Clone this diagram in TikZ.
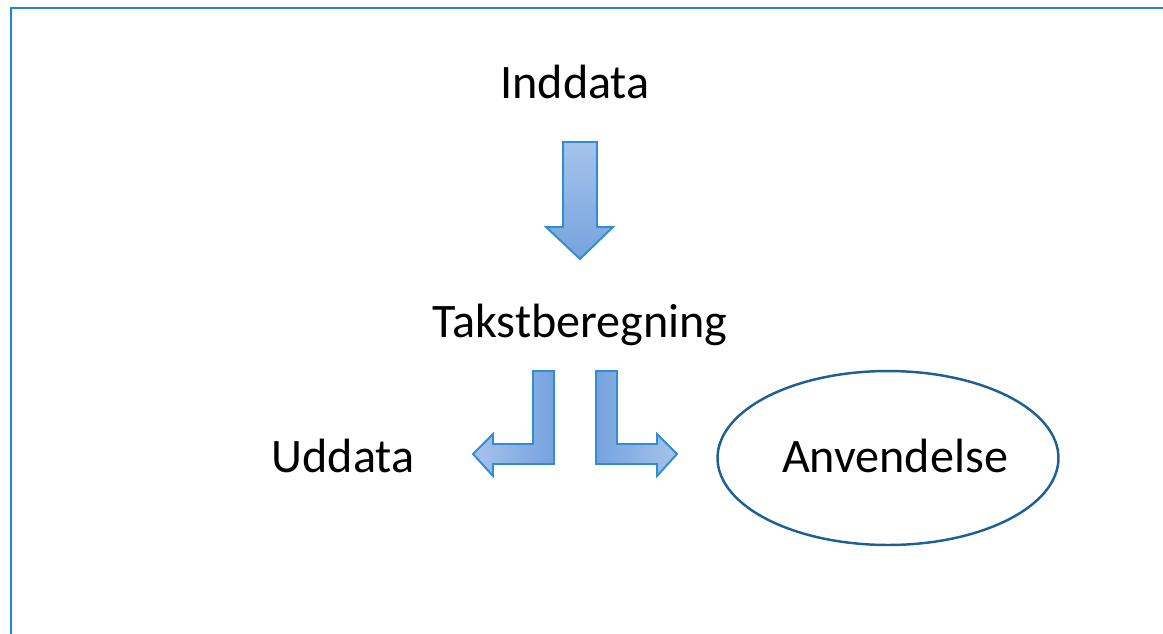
\documentclass[tikz,border=0pt]{standalone}
\usepackage{fontspec}
\setmainfont{Carlito}
\usepackage{tikz}
\usetikzlibrary{shapes.geometric}

\definecolor{framecol}{RGB}{30,135,205}
\definecolor{arrowline}{RGB}{50,140,210}
\definecolor{arrowlight}{RGB}{165,195,235}
\definecolor{arrowdark}{RGB}{118,163,222}
\definecolor{ovalcol}{RGB}{30,95,150}

\tikzset{
  label text/.style={font=\fontsize{27.4}{33}\selectfont, inner sep=0pt},
  block arrow/.style={draw=arrowline, line width=1.1pt, line join=miter}
}

\begin{document}
\begin{tikzpicture}[x=0.02cm, y=-0.02cm]
\useasboundingbox (0,0) rectangle (1163,633);
\draw[framecol, line width=1.5pt] (11,640) -- (11,8) -- (1170,8);

\node[label text] (inddata) at (575,82) {Inddata};
\node[label text] (takst) at (580,325) {Takstberegning};
\node[label text] (uddata) at (343,456) {Uddata};
\node[draw=ovalcol, line width=1.4pt, ellipse, minimum width=6.82cm, minimum height=3.48cm, inner sep=0pt] (oval) at (888,458) {};
\node[label text] (anvend) at (895,456) {Anvendelse};

\shade[block arrow, top color=arrowlight, bottom color=arrowdark]
  (563,142) -- (597,142) -- (597,227) -- (613,227) -- (580,259) -- (546,227) -- (563,227) -- cycle;
\shade[block arrow, left color=arrowlight, right color=arrowdark]
  (554,371) -- (554,464) -- (493,464) -- (493,476) -- (473,454) -- (493,434) -- (493,444) -- (533,444) -- (533,371) -- cycle;
\shade[block arrow, left color=arrowdark, right color=arrowlight]
  (596,371) -- (596,464) -- (657,464) -- (657,476) -- (677,454) -- (657,434) -- (657,444) -- (617,444) -- (617,371) -- cycle;

\end{tikzpicture}
\end{document}
